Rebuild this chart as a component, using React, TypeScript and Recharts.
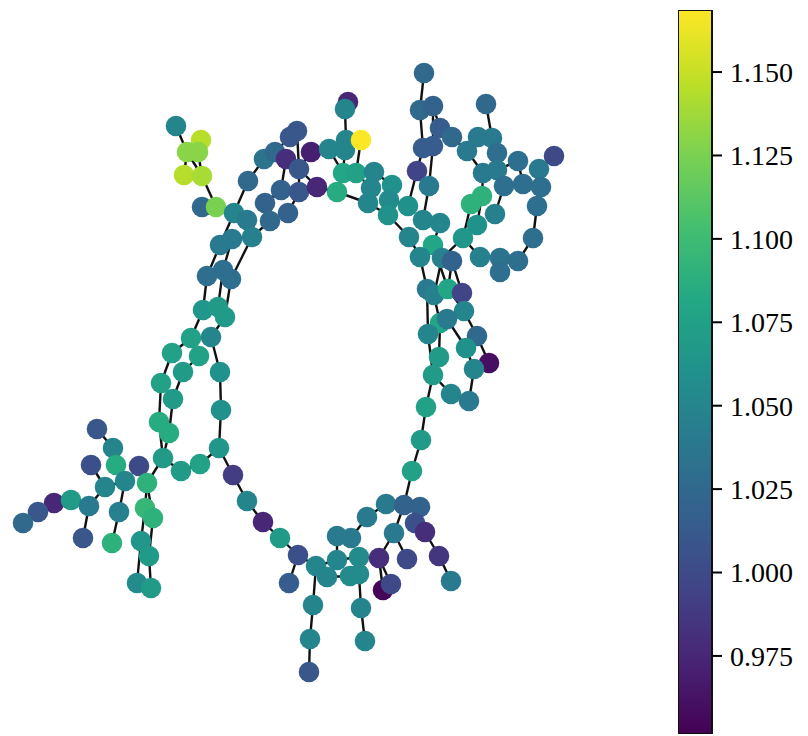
import { ScatterChart, Scatter, XAxis, YAxis, BarChart, Bar } from 'recharts';

// node positions (pixel space of the figure) and node values
const NODE_X = [
  176, 201, 187, 198, 184, 202, 202, 216, 234, 248, 264, 275, 290, 297, 286, 311, 299, 281, 299, 317, 265, 288, 270, 247, 252, 232, 220,
  348, 345, 329, 346, 345, 361, 343, 337, 356, 374, 371, 392, 368, 389, 388, 408, 409,
  424, 420, 433, 440, 452, 423, 433, 417, 429, 423, 440, 433, 420,
  486, 478, 492, 467, 497, 483, 497, 518, 554, 539, 504, 523, 541, 482, 471, 537, 495, 477, 463, 533, 480, 500, 500, 518, 442, 452,
  427, 434, 448, 462, 464, 440, 447, 428, 477, 466, 489, 439, 474, 433, 451, 469, 426, 421, 412,
  207, 223, 231, 203, 218, 225, 191, 211, 172, 199, 183, 220, 161, 173, 221, 159, 169, 219, 163, 181, 200, 233,
  97, 113, 91, 116, 139, 105, 125, 147, 54, 71, 38, 23, 89, 119, 145, 153, 83, 112, 141, 149, 137, 151,
  247, 263, 280, 298, 289, 316, 327, 313, 310, 309, 337, 351, 337, 359, 350, 359, 361, 365, 367, 386, 404, 420, 415, 425, 394, 379, 407, 439, 451, 383, 391,
];

const NODE_Y = [
  126, 140, 152, 152, 175, 176, 207, 207, 213, 181, 159, 152, 137, 131, 159, 152, 169, 190, 192, 187, 203, 213, 221, 220, 237, 239, 245,
  102, 109, 149, 140, 150, 140, 173, 192, 173, 172, 188, 185, 203, 200, 215, 206, 237,
  73, 110, 106, 128, 137, 148, 146, 171, 186, 220, 223, 245, 257,
  104, 137, 138, 151, 153, 173, 170, 161, 156, 169, 186, 184, 187, 196, 204, 206, 214, 225, 238, 238, 257, 258, 272, 261, 258, 261,
  289, 295, 289, 293, 311, 323, 319, 334, 336, 348, 363, 357, 369, 375, 394, 401, 407, 440, 471,
  276, 270, 279, 310, 307, 317, 338, 337, 353, 356, 372, 372, 383, 399, 410, 422, 433, 448, 458, 471, 464, 475,
  429, 448, 465, 465, 466, 487, 481, 483, 503, 500, 512, 523, 506, 512, 508, 518, 538, 543, 541, 556, 583, 588,
  501, 522, 538, 555, 583, 566, 577, 605, 639, 672, 536, 538, 560, 557, 576, 574, 608, 641, 517, 504, 505, 507, 523, 532, 533, 558, 559, 556, 581, 590, 584,
];

const NODE_VAL = [
  1.05, 1.145, 1.13, 1.13, 1.145, 1.14, 1.025, 1.125, 1.05, 1.025, 1.035, 1.025, 1.01, 1.01, 0.98, 0.97, 1.01, 1.02, 1.01, 0.975, 1.02, 1.02, 1.025, 1.04, 1.045, 1.04, 1.04,
  0.975, 1.05, 1.05, 1.05, 1.05, 1.168, 1.08, 1.085, 1.075, 1.05, 1.05, 1.06, 1.05, 1.055, 1.06, 1.06, 1.05,
  1.025, 1.025, 1.02, 1.015, 1.025, 1.015, 1.015, 0.995, 1.04, 1.05, 1.05, 1.08, 1.05,
  1.025, 1.04, 1.04, 1.04, 1.03, 1.04, 1.04, 1.03, 1.0, 1.04, 1.03, 1.03, 1.03, 1.09, 1.09, 1.03, 1.045, 1.06, 1.065, 1.03, 1.045, 1.035, 1.03, 1.03, 1.045, 1.02,
  1.04, 1.045, 1.08, 0.995, 1.05, 1.08, 1.04, 1.05, 1.025, 1.06, 0.96, 1.07, 1.05, 1.07, 1.05, 1.04, 1.075, 1.07, 1.075,
  1.03, 1.03, 1.03, 1.065, 1.07, 1.07, 1.075, 1.05, 1.075, 1.075, 1.07, 1.06, 1.075, 1.07, 1.06, 1.085, 1.085, 1.065, 1.07, 1.07, 1.075, 0.99,
  1.01, 1.05, 1.005, 1.085, 1.0, 1.05, 1.05, 1.09, 0.975, 1.07, 1.01, 1.025, 1.04, 1.045, 1.095, 1.09, 1.01, 1.09, 1.065, 1.07, 1.055, 1.07,
  1.05, 0.975, 1.07, 1.005, 1.015, 1.05, 1.05, 1.05, 1.05, 1.01, 1.04, 1.04, 1.05, 1.055, 1.055, 1.055, 1.05, 1.05, 1.04, 1.04, 1.02, 1.02, 1.005, 0.98, 1.04, 0.98, 1.0, 0.985, 1.04, 0.955, 1.0,
];

const EDGES: [number, number][] = [
  // top-left cluster
  [0, 2], [2, 4], [2, 5], [1, 3], [3, 5], [5, 7], [6, 7], [7, 8], [8, 9], [9, 10], [10, 11], [11, 12], [12, 13],
  [11, 14], [13, 16], [14, 17], [16, 18], [16, 19], [15, 29], [17, 20], [18, 21], [20, 22], [21, 22], [22, 24],
  [23, 24], [8, 23], [24, 25], [19, 34], [15, 16], [8, 26], [25, 103], [26, 102], [24, 104],
  // left column
  [102, 105], [103, 106], [104, 107], [105, 108], [107, 109], [109, 113], [113, 116], [116, 119], [119, 123],
  [119, 122], [121, 122], [120, 121], [117, 120], [118, 120], [114, 117], [115, 118], [112, 115], [110, 114],
  [111, 112], [108, 110], [108, 111],
  // bottom-left branch
  [120, 131], [131, 138], [138, 142], [142, 144], [131, 139], [139, 143], [143, 145], [128, 131], [127, 130],
  [125, 127], [124, 125], [130, 137], [137, 141], [126, 129], [129, 130], [129, 136], [136, 140], [133, 136],
  [132, 133], [132, 134], [134, 135],
  // top centre
  [27, 28], [28, 30], [30, 31], [29, 33], [31, 33], [32, 35], [33, 34], [35, 36], [36, 38], [35, 37], [37, 39],
  [34, 39], [38, 40], [39, 41], [40, 42], [41, 43], [42, 51],
  // top right
  [44, 45], [45, 49], [46, 50], [46, 47], [47, 48], [49, 51], [50, 52], [52, 53], [53, 54], [54, 55], [55, 56],
  [43, 56], [56, 83], [55, 85], [48, 60],
  [57, 59], [58, 60], [59, 61], [60, 62], [61, 63], [62, 70], [63, 64], [63, 67], [64, 68], [67, 68], [65, 66],
  [66, 69], [68, 69], [69, 72], [72, 76], [76, 80], [78, 80], [78, 79], [77, 78], [67, 73], [70, 71], [70, 74],
  [71, 75], [75, 77], [75, 81], [81, 84], [82, 85], [82, 86],
  // right side
  [83, 90], [84, 88], [85, 87], [86, 87], [87, 91], [89, 92], [91, 93], [92, 95], [95, 98], [90, 96], [88, 94],
  [94, 96], [96, 97], [96, 99], [99, 100], [100, 101],
  // bottom
  [123, 146], [146, 147], [147, 148], [148, 149], [149, 150], [149, 151], [151, 152], [151, 153], [153, 154],
  [154, 155], [151, 158], [156, 158], [156, 157], [157, 164], [164, 165], [165, 166], [166, 167], [166, 170],
  [167, 168], [168, 169], [169, 173], [173, 174], [170, 171], [170, 172], [171, 175], [171, 176], [159, 171],
  [158, 159], [159, 161], [160, 161], [161, 162], [162, 163], [101, 166], [152, 160],
];

const CB_TICKS = [0.975, 1.0, 1.025, 1.05, 1.075, 1.1, 1.125, 1.15];
const VMIN = 0.9516;
const VMAX = 1.1686;

const VIRIDIS = [
  '#440154', '#482475', '#414487', '#355f8d', '#2a788e', '#21918c',
  '#22a884', '#44bf70', '#7ad151', '#bddf26', '#fde725',
];

function hexToRgb(h: string) {
  return [parseInt(h.slice(1, 3), 16), parseInt(h.slice(3, 5), 16), parseInt(h.slice(5, 7), 16)];
}

function viridis(v: number) {
  let t = (v - VMIN) / (VMAX - VMIN);
  t = Math.max(0, Math.min(1, t));
  const pos = t * (VIRIDIS.length - 1);
  const i = Math.min(Math.floor(pos), VIRIDIS.length - 2);
  const f = pos - i;
  const a = hexToRgb(VIRIDIS[i]);
  const b = hexToRgb(VIRIDIS[i + 1]);
  const c = a.map((x, k) => Math.round(x + (b[k] - x) * f));
  return `rgb(${c[0]},${c[1]},${c[2]})`;
}

const nodes = NODE_X.map((x, i) => ({ x, y: NODE_Y[i], v: NODE_VAL[i] }));
const edges = EDGES.map(([a, b]) => [nodes[a], nodes[b]]);

const NoShape = () => <g />;

const NodeShape = (props: any) => (
  <circle cx={props.cx} cy={props.cy} r={10.3} fill={viridis(props.payload.v)} />
);

const cbData = [{ name: 'cb', range: [VMIN, VMAX] }];

export default function App() {
  return (
    <div style={{ position: 'absolute', left: 0, top: 0, width: 808, height: 736, background: '#fff' }}>
      <div style={{ position: 'absolute', left: 0, top: 0 }}>
        <ScatterChart width={660} height={736} margin={{ top: 0, right: 0, bottom: 0, left: 0 }}>
          <XAxis type="number" dataKey="x" domain={[0, 660]} hide allowDataOverflow />
          <YAxis type="number" dataKey="y" domain={[0, 736]} reversed hide allowDataOverflow />
          {edges.map((e, i) => (
            <Scatter
              key={'e' + i}
              data={e}
              fill="#111"
              line={{ stroke: '#111', strokeWidth: 2.4 }}
              shape={NoShape}
              isAnimationActive={false}
            />
          ))}
          <Scatter data={nodes} shape={NodeShape} isAnimationActive={false} />
        </ScatterChart>
      </div>
      <div style={{ position: 'absolute', left: 678, top: 0 }}>
        <BarChart
          width={130}
          height={736}
          data={cbData}
          margin={{ top: 10, right: 0, bottom: 2, left: 0 }}
          barCategoryGap={0}
        >
          <defs>
            <linearGradient id="viridisGrad" x1="0" y1="1" x2="0" y2="0">
              {VIRIDIS.map((c, i) => (
                <stop key={i} offset={i / (VIRIDIS.length - 1)} stopColor={c} />
              ))}
            </linearGradient>
          </defs>
          <XAxis dataKey="name" hide />
          <YAxis
            orientation="right"
            type="number"
            domain={[VMIN, VMAX]}
            ticks={CB_TICKS}
            allowDataOverflow
            width={96}
            axisLine={false}
            tickSize={10}
            tickMargin={8}
            tickLine={{ stroke: '#000', strokeWidth: 2 }}
            tickFormatter={(v: number) => v.toFixed(3)}
            tick={{ fontSize: 28, fill: '#000', fontFamily: '"Liberation Serif", serif' }}
          />
          <Bar dataKey="range" fill="url(#viridisGrad)" stroke="#111" strokeWidth={2} isAnimationActive={false} />
        </BarChart>
      </div>
    </div>
  );
}
